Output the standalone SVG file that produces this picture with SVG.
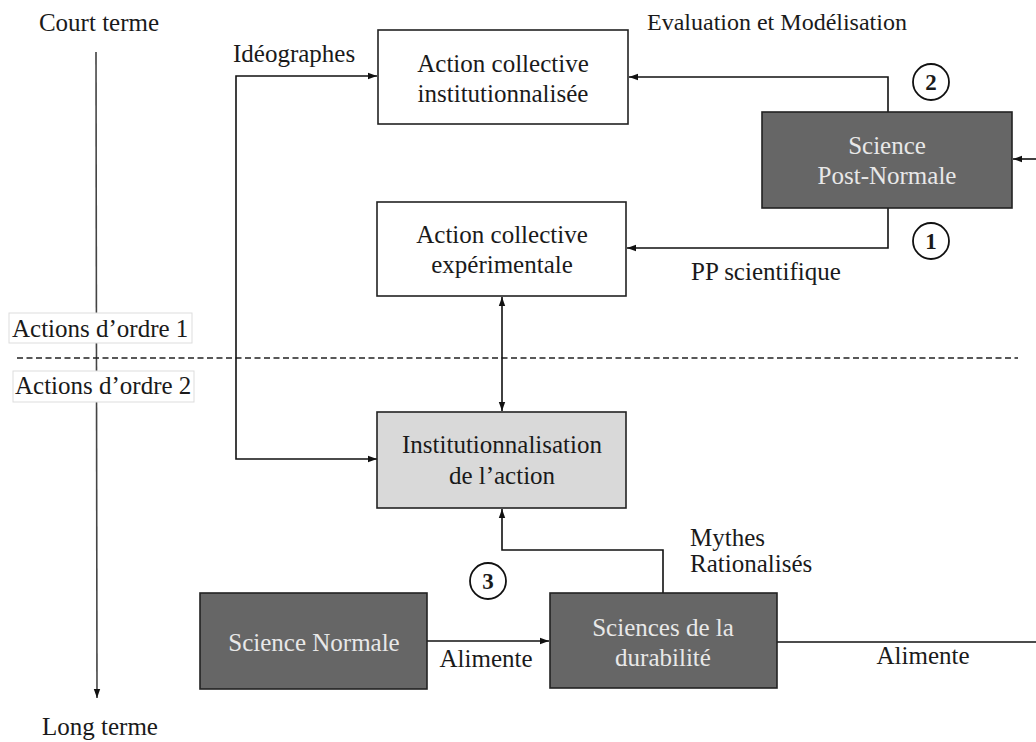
<svg xmlns="http://www.w3.org/2000/svg" width="1036" height="742" viewBox="0 0 1036 742">
<style>
text{font-family:"Liberation Serif","Times New Roman",serif;font-size:25px;fill:#1a1a1a}
.c{text-anchor:middle}
.lt{fill:#e8e8e8}
.box{fill:#fff;stroke:#222;stroke-width:1.6}
.grey{fill:#d9d9d9;stroke:#222;stroke-width:1.6}
.dark{fill:#666;stroke:#222;stroke-width:1.6}
.ln{fill:none;stroke:#111;stroke-width:1.6}
.circ{fill:#fff;stroke:#111;stroke-width:1.8}
.num{font-weight:bold;font-size:23px;text-anchor:middle}
.lab{fill:#fff;stroke:#ddd;stroke-width:1}
</style>
<defs>
<marker id="ah" markerUnits="userSpaceOnUse" markerWidth="10" markerHeight="8" refX="9" refY="4" orient="auto-start-reverse">
<path d="M0,0.8 L9,4 L0,7.2 Z" fill="#111"/>
</marker>
</defs>
<rect width="1036" height="742" fill="#fff"/>

<g id="timeline">
<line x1="96" y1="52" x2="97" y2="698" stroke="#444" stroke-width="1.6" marker-end="url(#ah)"/>
<text class="c" x="99" y="31">Court terme</text>
<text class="c" x="100" y="735">Long terme</text>
</g>

<g id="separator">
<line x1="17" y1="358" x2="1018" y2="358" stroke="#222" stroke-width="1.4" stroke-dasharray="6 3.5"/>
<rect class="lab" x="9" y="313" width="183" height="30"/>
<text x="12" y="337">Actions d’ordre 1</text>
<rect class="lab" x="13" y="371" width="181" height="31"/>
<text x="15" y="394">Actions d’ordre 2</text>
</g>

<g id="connectors">
<path class="ln" d="M377,459 H236 V76 H377" marker-start="url(#ah)" marker-end="url(#ah)"/>
<path class="ln" d="M888,112 V77 H629" marker-end="url(#ah)"/>
<path class="ln" d="M888,208 V248 H627" marker-end="url(#ah)"/>
<path class="ln" d="M1036,159 H1013" marker-end="url(#ah)"/>
<path class="ln" d="M502,297 V411" marker-start="url(#ah)" marker-end="url(#ah)"/>
<path class="ln" d="M663,593 V550 H502 V509" marker-end="url(#ah)"/>
<path class="ln" d="M427,641 H549" marker-end="url(#ah)"/>
<path class="ln" d="M777,642 H1036"/>
<text x="233" y="62">Idéographes</text>
<text x="647" y="30" style="font-size:24px">Evaluation et Modélisation</text>
<text x="691" y="280">PP scientifique</text>
<text x="690" y="546">Mythes</text>
<text x="690" y="572">Rationalisés</text>
<text class="c" x="486" y="667">Alimente</text>
<text class="c" x="923" y="664">Alimente</text>
</g>

<g id="badge2">
<circle class="circ" cx="931" cy="82" r="18"/>
<text class="num" x="931" y="90">2</text>
</g>
<g id="badge1">
<circle class="circ" cx="931" cy="241" r="18"/>
<text class="num" x="931" y="249">1</text>
</g>
<g id="badge3">
<circle class="circ" cx="488" cy="581" r="18"/>
<text class="num" x="488" y="589">3</text>
</g>

<g id="node-institutionnalisee">
<rect class="box" x="378" y="30" width="250" height="94"/>
<text class="c" x="503" y="72">Action collective</text>
<text class="c" x="503" y="102">institutionnalisée</text>
</g>

<g id="node-experimentale">
<rect class="box" x="377" y="202" width="249" height="94"/>
<text class="c" x="502" y="243">Action collective</text>
<text class="c" x="502" y="273">expérimentale</text>
</g>

<g id="node-post-normale">
<rect class="dark" x="762" y="112" width="250" height="96"/>
<text class="c lt" x="887" y="154">Science</text>
<text class="c lt" x="887" y="184">Post-Normale</text>
</g>

<g id="node-institutionnalisation">
<rect class="grey" x="377" y="412" width="249" height="96"/>
<text class="c" x="502" y="453">Institutionnalisation</text>
<text class="c" x="502" y="484">de l’action</text>
</g>

<g id="node-science-normale">
<rect class="dark" x="200" y="593" width="227" height="96"/>
<text class="c lt" x="314" y="651">Science Normale</text>
</g>

<g id="node-durabilite">
<rect class="dark" x="550" y="593" width="227" height="95"/>
<text class="c lt" x="663" y="636">Sciences de la</text>
<text class="c lt" x="663" y="666">durabilité</text>
</g>
</svg>
